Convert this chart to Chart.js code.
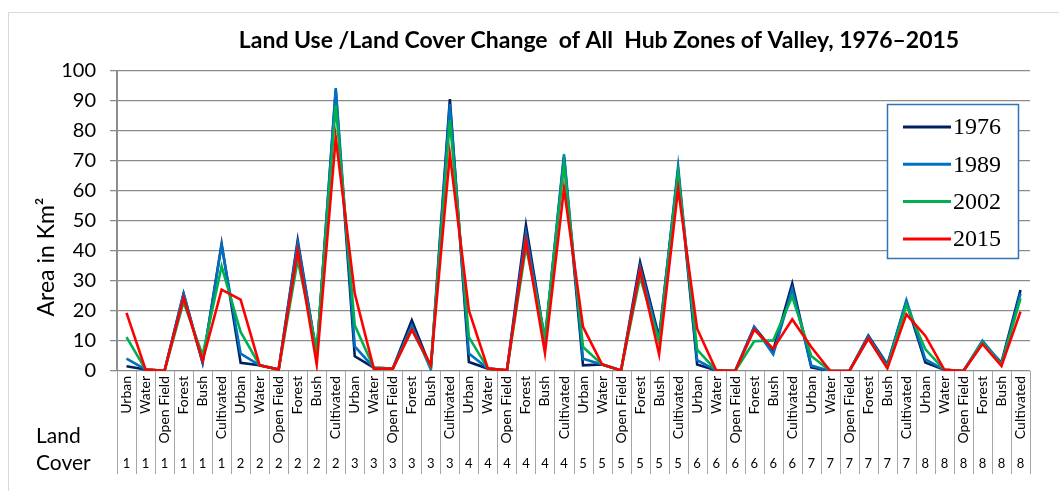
<!DOCTYPE html>
<html lang="en">
<head>
<meta charset="UTF-8">
<title>Land Use / Land Cover Change</title>
<script src="https://cdn.jsdelivr.net/npm/chart.js"></script>
<style>
  html, body { margin: 0; padding: 0; background: #fff; }
  #wrap { width: 1059px; height: 491px; position: relative; }
</style>
</head>
<body>
<div id="wrap"><canvas id="c" width="1059" height="491"></canvas></div>
<script>
  const zones = ['1', '2', '3', '4', '5', '6', '7', '8'];
  const landCover = ['Urban', 'Water', 'Open Field', 'Forest', 'Bush', 'Cultivated'];
  const years = ['1976', '1989', '2002', '2015'];
  const yearColors = ['#002060', '#0070c0', '#00b050', '#ff0000'];

  // km², one row per hub zone (Urban, Water, Open Field, Forest, Bush, Cultivated)
  const area1976 = [
    1.6, 0.5, 0.1, 25.8, 2.8, 42.4,
    2.7, 1.9, 0.5, 43.6, 5.5, 93.5,
    4.9, 1.1, 0.8, 16.9, 1.0, 90.6,
    3.0, 0.8, 0.2, 48.6, 10.0, 71.3,
    1.9, 2.2, 0.2, 36.3, 11.3, 66.9,
    2.2, 0.2, 0.0, 14.7, 6.9, 29.2,
    1.2, 0.0, 0.0, 11.8, 2.2, 23.0,
    2.8, 0.4, 0.0, 9.3, 2.8, 27.0
  ];
  const area1989 = [
    4.1, 0.5, 0.1, 25.8, 2.8, 41.9,
    5.8, 1.9, 0.5, 42.7, 5.5, 94.3,
    8.2, 1.1, 0.8, 15.2, 0.5, 89.0,
    5.8, 0.8, 0.2, 45.8, 10.0, 72.2,
    4.1, 2.2, 0.2, 34.7, 10.2, 68.2,
    3.6, 0.2, 0.0, 14.7, 5.6, 27.4,
    1.8, 0.0, 0.0, 11.6, 1.8, 23.6,
    3.9, 0.4, 0.0, 10.1, 2.5, 25.8
  ];
  const area2002 = [
    11.3, 0.5, 0.1, 23.0, 5.3, 34.9,
    13.0, 1.9, 0.5, 37.0, 7.0, 88.6,
    15.2, 1.1, 0.8, 13.8, 1.5, 83.6,
    11.3, 0.8, 0.2, 41.3, 11.5, 69.0,
    8.0, 2.2, 0.2, 31.3, 9.7, 65.8,
    7.1, 0.2, 0.0, 9.9, 10.2, 24.8,
    5.0, 0.0, 0.0, 10.8, 1.2, 22.0,
    7.2, 0.4, 0.0, 9.5, 2.0, 24.2
  ];
  const area2015 = [
    19.4, 0.5, 0.1, 24.4, 3.4, 27.1,
    23.8, 1.9, 0.5, 40.2, 2.2, 77.8,
    25.8, 0.8, 0.8, 13.8, 2.0, 72.2,
    20.2, 0.8, 0.2, 43.6, 6.0, 60.8,
    14.7, 2.2, 0.2, 33.6, 5.6, 60.8,
    14.1, 0.2, 0.0, 13.8, 7.4, 17.2,
    8.0, 0.0, 0.0, 10.9, 0.9, 18.9,
    11.7, 0.4, 0.0, 9.0, 1.7, 19.8
  ];

  const coverLabels = [];
  const zoneLabels = [];
  zones.forEach(z => {
    landCover.forEach(lc => {
      coverLabels.push(lc);
      zoneLabels.push(z);
    });
  });

  const font = 'Lato, "Open Sans", sans-serif';
  const gridGray = '#8c8c8c';
  const titleText = 'Land Use /Land Cover Change  of All  Hub Zones of Valley, 1976\u20132015';

  // everything Excel draws outside the plot: title, axis title, legend box, label separators
  const decor = {
    id: 'decor',
    afterDraw(chart) {
      const ctx = chart.ctx;
      const area = chart.chartArea;
      const xs = chart.scales.x;
      ctx.save();

      // outer chart frame
      ctx.strokeStyle = '#d9d9d9';
      ctx.lineWidth = 1;
      ctx.strokeRect(8.5, 12.5, 1100, 600);

      // title, sized so it spans about the same width as the original
      ctx.fillStyle = '#000';
      ctx.font = 'bold 20px ' + font;
      const w = ctx.measureText(titleText).width;
      const size = Math.min(24, 20 * 720 / w);
      ctx.font = 'bold ' + size.toFixed(1) + 'px ' + font;
      ctx.textAlign = 'center';
      ctx.textBaseline = 'middle';
      ctx.fillText(titleText, 599, 41);

      // y axis title
      ctx.save();
      ctx.translate(47, 257);
      ctx.rotate(-Math.PI / 2);
      ctx.font = '23px ' + font;
      ctx.fillText('Area in Km\u00b2', 0, 0);
      ctx.restore();

      // separators between the category labels
      const step = (xs.right - xs.left) / coverLabels.length;
      ctx.strokeStyle = '#a6a6a6';
      ctx.lineWidth = 1;
      for (let i = 0; i <= coverLabels.length; i++) {
        const x = Math.round(xs.left + i * step) + 0.5;
        ctx.beginPath();
        ctx.moveTo(x, area.bottom);
        ctx.lineTo(x, 474);
        ctx.stroke();
      }

      // "Land Cover" row caption
      ctx.font = '21px ' + font;
      ctx.textAlign = 'left';
      ctx.fillText('Land', 36, 436);
      ctx.fillText('Cover', 36, 463);

      // legend box
      ctx.fillStyle = '#fff';
      ctx.fillRect(887, 104, 132, 155);
      ctx.strokeStyle = '#2e75b6';
      ctx.lineWidth = 1.5;
      ctx.strokeRect(887.5, 104.5, 131, 154);
      ctx.font = '24px "Liberation Serif", "Times New Roman", serif';
      chart.data.datasets.forEach((ds, i) => {
        const y = 127 + i * 37.3;
        ctx.strokeStyle = ds.borderColor;
        ctx.lineWidth = 3;
        ctx.beginPath();
        ctx.moveTo(903, y);
        ctx.lineTo(951, y);
        ctx.stroke();
        ctx.fillStyle = '#000';
        ctx.textBaseline = 'middle';
        ctx.fillText(ds.label, 953, y + 1);
      });

      ctx.restore();
    }
  };

  const seriesData = [area1976, area1989, area2002, area2015];

  new Chart(document.getElementById('c'), {
    type: 'line',
    data: {
      labels: coverLabels,
      datasets: years.map((yr, i) => ({
        label: yr,
        data: seriesData[i],
        borderColor: yearColors[i],
        backgroundColor: yearColors[i],
        borderWidth: 2.6,
        pointRadius: 0,
        tension: 0,
        order: 4 - i
      }))
    },
    options: {
      responsive: false,
      devicePixelRatio: 1,
      animation: false,
      layout: { padding: { top: 71, right: 29, left: 0, bottom: 0 } },
      plugins: {
        legend: { display: false },
        title: { display: false },
        tooltip: { enabled: false }
      },
      scales: {
        x: {
          type: 'category',
          offset: true,
          grid: { display: false, drawTicks: false },
          border: { display: false },
          ticks: {
            autoSkip: false,
            minRotation: 90,
            maxRotation: 90,
            padding: 5,
            color: '#000',
            font: { family: font, size: 14 }
          },
          afterFit: s => { s.height = 80; }
        },
        x2: {
          type: 'category',
          labels: zoneLabels,
          position: 'bottom',
          offset: true,
          grid: { display: false, drawTicks: false },
          border: { display: false },
          ticks: {
            autoSkip: false,
            maxRotation: 0,
            padding: 5,
            color: '#000',
            font: { family: font, size: 13 }
          },
          afterFit: s => { s.height = 40; }
        },
        y: {
          min: 0,
          max: 100,
          ticks: {
            stepSize: 10,
            padding: 14,
            color: '#000',
            font: { family: font, size: 20 }
          },
          grid: { color: gridGray, lineWidth: 1.3, tickLength: 7 },
          border: { color: gridGray, width: 2 },
          afterFit: s => { s.width = 117; }
        }
      }
    },
    plugins: [decor]
  });
</script>
</body>
</html>
